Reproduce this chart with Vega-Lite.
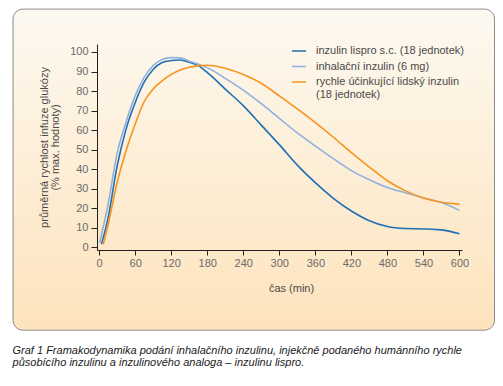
{
  "$schema": "https://vega.github.io/schema/vega-lite/v6.json",
  "width": 365,
  "height": 206,
  "padding": {"left": 12, "top": 8, "right": 8, "bottom": 0},
  "background": "white",
  "config": {
    "view": {"stroke": null},
    "font": "Liberation Sans",
    "axis": {
      "grid": false,
      "domainColor": "#231f20",
      "tickColor": "#231f20",
      "labelFont": "Liberation Sans",
      "labelFontSize": 11,
      "labelColor": "#6b6b6b",
      "titleFont": "Liberation Sans",
      "titleFontSize": 11,
      "titleFontWeight": "normal",
      "titleColor": "#4a4a4a"
    }
  },
  "title": {
    "text": ["Graf 1  Framakodynamika podání inhalačního inzulinu, injekčně podaného humánního rychle", "působícího inzulinu a inzulinového analoga – inzulinu lispro."],
    "orient": "bottom",
    "anchor": "start",
    "frame": "bounds",
    "font": "Liberation Sans",
    "fontSize": 11,
    "fontStyle": "italic",
    "fontWeight": "normal",
    "color": "#1a1a1a",
    "lineHeight": 12.5,
    "offset": 14
  },
  "datasets": {
    "curves": [
      {"t": 4, "v": 1.5, "s": "inzulin lispro s.c. (18 jednotek)"},
      {"t": 15, "v": 15, "s": "inzulin lispro s.c. (18 jednotek)"},
      {"t": 30, "v": 41.5, "s": "inzulin lispro s.c. (18 jednotek)"},
      {"t": 45, "v": 60.6, "s": "inzulin lispro s.c. (18 jednotek)"},
      {"t": 60, "v": 74, "s": "inzulin lispro s.c. (18 jednotek)"},
      {"t": 75, "v": 84.5, "s": "inzulin lispro s.c. (18 jednotek)"},
      {"t": 90, "v": 91, "s": "inzulin lispro s.c. (18 jednotek)"},
      {"t": 105, "v": 94.6, "s": "inzulin lispro s.c. (18 jednotek)"},
      {"t": 120, "v": 95.6, "s": "inzulin lispro s.c. (18 jednotek)"},
      {"t": 135, "v": 95.9, "s": "inzulin lispro s.c. (18 jednotek)"},
      {"t": 150, "v": 94.8, "s": "inzulin lispro s.c. (18 jednotek)"},
      {"t": 165, "v": 93, "s": "inzulin lispro s.c. (18 jednotek)"},
      {"t": 180, "v": 89.5, "s": "inzulin lispro s.c. (18 jednotek)"},
      {"t": 210, "v": 81, "s": "inzulin lispro s.c. (18 jednotek)"},
      {"t": 240, "v": 72.5, "s": "inzulin lispro s.c. (18 jednotek)"},
      {"t": 270, "v": 62.5, "s": "inzulin lispro s.c. (18 jednotek)"},
      {"t": 300, "v": 52.5, "s": "inzulin lispro s.c. (18 jednotek)"},
      {"t": 330, "v": 42, "s": "inzulin lispro s.c. (18 jednotek)"},
      {"t": 360, "v": 33, "s": "inzulin lispro s.c. (18 jednotek)"},
      {"t": 390, "v": 25, "s": "inzulin lispro s.c. (18 jednotek)"},
      {"t": 420, "v": 18.5, "s": "inzulin lispro s.c. (18 jednotek)"},
      {"t": 450, "v": 13.5, "s": "inzulin lispro s.c. (18 jednotek)"},
      {"t": 480, "v": 10.5, "s": "inzulin lispro s.c. (18 jednotek)"},
      {"t": 510, "v": 9.5, "s": "inzulin lispro s.c. (18 jednotek)"},
      {"t": 540, "v": 9.3, "s": "inzulin lispro s.c. (18 jednotek)"},
      {"t": 570, "v": 8.8, "s": "inzulin lispro s.c. (18 jednotek)"},
      {"t": 600, "v": 6.8, "s": "inzulin lispro s.c. (18 jednotek)"},
      {"t": 1, "v": 2.2, "s": "inhalační inzulin (6 mg)"},
      {"t": 15, "v": 22, "s": "inhalační inzulin (6 mg)"},
      {"t": 30, "v": 48, "s": "inhalační inzulin (6 mg)"},
      {"t": 45, "v": 64.2, "s": "inhalační inzulin (6 mg)"},
      {"t": 60, "v": 77.5, "s": "inhalační inzulin (6 mg)"},
      {"t": 75, "v": 87, "s": "inhalační inzulin (6 mg)"},
      {"t": 90, "v": 93, "s": "inhalační inzulin (6 mg)"},
      {"t": 105, "v": 96.2, "s": "inhalační inzulin (6 mg)"},
      {"t": 120, "v": 97.1, "s": "inhalační inzulin (6 mg)"},
      {"t": 135, "v": 97, "s": "inhalační inzulin (6 mg)"},
      {"t": 150, "v": 95.3, "s": "inhalační inzulin (6 mg)"},
      {"t": 165, "v": 93.8, "s": "inhalační inzulin (6 mg)"},
      {"t": 180, "v": 92, "s": "inhalační inzulin (6 mg)"},
      {"t": 210, "v": 86.5, "s": "inhalační inzulin (6 mg)"},
      {"t": 240, "v": 80.5, "s": "inhalační inzulin (6 mg)"},
      {"t": 270, "v": 73.5, "s": "inhalační inzulin (6 mg)"},
      {"t": 300, "v": 66, "s": "inhalační inzulin (6 mg)"},
      {"t": 330, "v": 58.5, "s": "inhalační inzulin (6 mg)"},
      {"t": 360, "v": 51.8, "s": "inhalační inzulin (6 mg)"},
      {"t": 390, "v": 45.3, "s": "inhalační inzulin (6 mg)"},
      {"t": 420, "v": 39.2, "s": "inhalační inzulin (6 mg)"},
      {"t": 450, "v": 34.5, "s": "inhalační inzulin (6 mg)"},
      {"t": 480, "v": 30.5, "s": "inhalační inzulin (6 mg)"},
      {"t": 510, "v": 27.8, "s": "inhalační inzulin (6 mg)"},
      {"t": 540, "v": 25.2, "s": "inhalační inzulin (6 mg)"},
      {"t": 570, "v": 22.8, "s": "inhalační inzulin (6 mg)"},
      {"t": 600, "v": 18.8, "s": "inhalační inzulin (6 mg)"},
      {"t": 7, "v": 1.4, "s": "rychle účinkující lidský inzulin (18 jednotek)"},
      {"t": 15, "v": 11.5, "s": "rychle účinkující lidský inzulin (18 jednotek)"},
      {"t": 30, "v": 33, "s": "rychle účinkující lidský inzulin (18 jednotek)"},
      {"t": 45, "v": 49.5, "s": "rychle účinkující lidský inzulin (18 jednotek)"},
      {"t": 60, "v": 63, "s": "rychle účinkující lidský inzulin (18 jednotek)"},
      {"t": 75, "v": 74.5, "s": "rychle účinkující lidský inzulin (18 jednotek)"},
      {"t": 90, "v": 81, "s": "rychle účinkující lidský inzulin (18 jednotek)"},
      {"t": 105, "v": 85.2, "s": "rychle účinkující lidský inzulin (18 jednotek)"},
      {"t": 120, "v": 88.5, "s": "rychle účinkující lidský inzulin (18 jednotek)"},
      {"t": 135, "v": 90.8, "s": "rychle účinkující lidský inzulin (18 jednotek)"},
      {"t": 150, "v": 92.2, "s": "rychle účinkující lidský inzulin (18 jednotek)"},
      {"t": 165, "v": 92.9, "s": "rychle účinkující lidský inzulin (18 jednotek)"},
      {"t": 180, "v": 93.2, "s": "rychle účinkující lidský inzulin (18 jednotek)"},
      {"t": 210, "v": 91.7, "s": "rychle účinkující lidský inzulin (18 jednotek)"},
      {"t": 240, "v": 88.5, "s": "rychle účinkující lidský inzulin (18 jednotek)"},
      {"t": 270, "v": 84, "s": "rychle účinkující lidský inzulin (18 jednotek)"},
      {"t": 300, "v": 77.5, "s": "rychle účinkující lidský inzulin (18 jednotek)"},
      {"t": 330, "v": 70.8, "s": "rychle účinkující lidský inzulin (18 jednotek)"},
      {"t": 360, "v": 63.8, "s": "rychle účinkující lidský inzulin (18 jednotek)"},
      {"t": 390, "v": 56.3, "s": "rychle účinkující lidský inzulin (18 jednotek)"},
      {"t": 420, "v": 48.4, "s": "rychle účinkující lidský inzulin (18 jednotek)"},
      {"t": 450, "v": 41, "s": "rychle účinkující lidský inzulin (18 jednotek)"},
      {"t": 480, "v": 34, "s": "rychle účinkující lidský inzulin (18 jednotek)"},
      {"t": 510, "v": 28.8, "s": "rychle účinkující lidský inzulin (18 jednotek)"},
      {"t": 540, "v": 25.2, "s": "rychle účinkující lidský inzulin (18 jednotek)"},
      {"t": 570, "v": 23, "s": "rychle účinkující lidský inzulin (18 jednotek)"},
      {"t": 600, "v": 21.9, "s": "rychle účinkující lidský inzulin (18 jednotek)"}
    ]
  },
  "layer": [
    {
      "data": {"values": [{}]},
      "mark": {
        "type": "rect",
        "cornerRadius": 10,
        "stroke": "#8c8c8c",
        "strokeWidth": 1,
        "fill": {
          "gradient": "linear",
          "x1": 0, "y1": 0, "x2": 0, "y2": 1,
          "stops": [
            {"offset": 0, "color": "#fdf9f1"},
            {"offset": 1, "color": "#fde3bc"}
          ]
        }
      },
      "encoding": {
        "x": {
          "datum": -143.3, "type": "quantitative",
          "scale": {"domain": [-3.5, 604.2], "nice": false, "zero": false},
          "axis": {
            "title": "čas (min)",
            "zindex": 1,
            "labelOverlap": false,
            "labelFlush": false,
            "values": [0, 60, 120, 180, 240, 300, 360, 420, 480, 540, 600],
            "tickSize": 5,
            "labelPadding": 2,
            "titlePadding": 14,
            "titleX": 194
          }
        },
        "x2": {"datum": 658.3},
        "y": {
          "datum": 122, "type": "quantitative",
          "scale": {"domain": [-1.5, 104.1], "nice": false, "zero": false},
          "axis": {
            "title": ["průměrná rychlost infuze glukózy", "(% max. hodnoty)"],
            "zindex": 1,
            "labelOverlap": false,
            "labelFlush": false,
            "values": [0, 10, 20, 30, 40, 50, 60, 70, 80, 90, 100],
            "tickSize": 6,
            "labelPadding": 3,
            "titleLineHeight": 11,
            "titlePadding": 9
          }
        },
        "y2": {"datum": -42.6}
      }
    },
    {
      "data": {"name": "curves"},
      "mark": {"type": "line", "interpolate": "monotone", "strokeWidth": 1.6},
      "encoding": {
        "x": {
          "field": "t", "type": "quantitative",
          "scale": {"domain": [-3.5, 604.2], "nice": false, "zero": false},
          "axis": {
            "title": "čas (min)",
            "zindex": 1,
            "labelOverlap": false,
            "labelFlush": false,
            "values": [0, 60, 120, 180, 240, 300, 360, 420, 480, 540, 600],
            "tickSize": 5,
            "labelPadding": 2,
            "titlePadding": 14,
            "titleX": 194
          }
        },
        "y": {
          "field": "v", "type": "quantitative",
          "scale": {"domain": [-1.5, 104.1], "nice": false, "zero": false},
          "axis": {
            "title": ["průměrná rychlost infuze glukózy", "(% max. hodnoty)"],
            "zindex": 1,
            "labelOverlap": false,
            "labelFlush": false,
            "values": [0, 10, 20, 30, 40, 50, 60, 70, 80, 90, 100],
            "tickSize": 6,
            "labelPadding": 3,
            "titleLineHeight": 11,
            "titlePadding": 9
          }
        },
        "color": {
          "field": "s", "type": "nominal",
          "scale": {
            "domain": ["inzulin lispro s.c. (18 jednotek)", "inhalační inzulin (6 mg)", "rychle účinkující lidský inzulin (18 jednotek)"],
            "range": ["#1f6fb5", "#8fb1dc", "#f7941e"]
          },
          "legend": {
            "title": null,
            "orient": "none",
            "legendX": 194,
            "legendY": -1,
            "zindex": 1,
            "symbolType": "stroke",
            "symbolSize": 200,
            "symbolStrokeWidth": 1.5,
            "labelFont": "Liberation Sans",
            "labelFontSize": 11,
            "labelColor": "#4a4a4a",
            "labelLimit": 300,
            "labelOffset": 9,
            "rowPadding": 2.5,
            "labelExpr": "datum.value == 'rychle účinkující lidský inzulin (18 jednotek)' ? ['rychle účinkující lidský inzulin', '(18 jednotek)'] : datum.label"
          }
        }
      }
    }
  ]
}
